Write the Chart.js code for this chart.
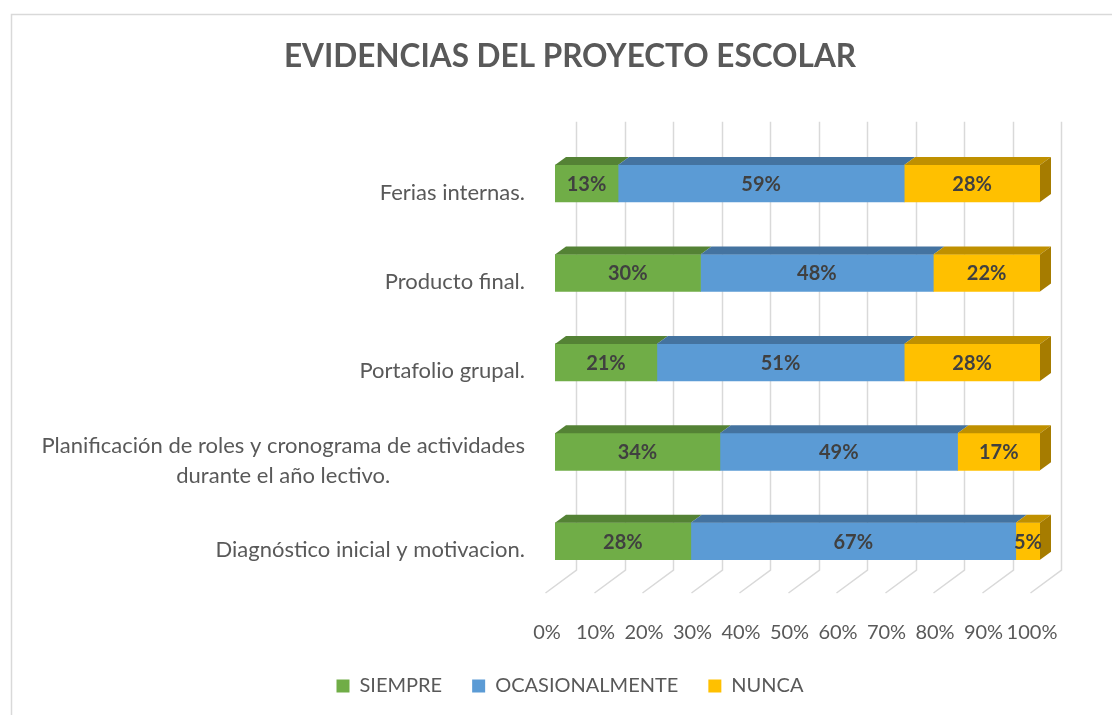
<!DOCTYPE html>
<html lang="es">
<head>
  <meta charset="UTF-8">
  <title>Evidencias del proyecto escolar</title>
  <script src="https://cdn.jsdelivr.net/npm/chart.js"></script>
  <style>
    html, body { margin: 0; padding: 0; background: #fff; }
  </style>
</head>
<body>
  <canvas id="grafico" width="1112" height="715"></canvas>

  <script>
    // datos
    const categorias = [
      ['Ferias internas.'],
      ['Producto final.'],
      ['Portafolio grupal.'],
      ['Planificación de roles y cronograma de actividades', 'durante el año lectivo.'],
      ['Diagnóstico inicial y motivacion.']
    ];
    const siempre = [13, 30, 21, 34, 28];
    const ocasionalmente = [59, 48, 51, 49, 67];
    const nunca = [28, 22, 28, 17, 5];
    const etiquetasX = ['0%', '10%', '20%', '30%', '40%', '50%', '60%', '70%', '80%', '90%', '100%'];

    const fuente = 'Lato, "Open Sans", sans-serif';
    const tapa = ['#548235', '#4473A0', '#BF9000'];   // cara superior
    const lado = '#A67C00';                           // cara lateral de la ultima serie
    const DX = 11, DY = 8;                            // profundidad de las barras

    // fondo blanco y borde del area del grafico
    const fondo = {
      id: 'fondo',
      beforeDraw(chart) {
        const c = chart.ctx;
        c.save();
        c.fillStyle = '#fff';
        c.fillRect(0, 0, chart.width, chart.height);
        c.strokeStyle = '#d9d9d9';
        c.lineWidth = 1.5;
        c.strokeRect(11.5, 14.5, chart.width + 20, chart.height + 20);
        c.restore();
      }
    };

    // pared del fondo y piso (lineas de division)
    const pared = {
      id: 'pared',
      beforeDatasetsDraw(chart) {
        const c = chart.ctx, x = chart.scales.x, a = chart.chartArea;
        const arriba = a.top - 17, abajo = a.bottom - 16;
        c.save();
        c.strokeStyle = '#d9d9d9';
        c.lineWidth = 1.5;
        for (let v = 0; v <= 100; v += 10) {
          const px = Math.round(x.getPixelForValue(v)) + 21.5;
          c.beginPath();
          c.moveTo(px, arriba);
          c.lineTo(px, abajo);
          c.lineTo(px - 31, abajo + 23);
          c.stroke();
        }
        c.restore();
      }
    };

    // caras superior y lateral, y etiquetas de datos
    const volumen = {
      id: 'volumen',
      afterDatasetsDraw(chart) {
        const c = chart.ctx;
        const n = chart.data.datasets.length;
        c.save();
        chart.data.datasets.forEach((ds, i) => {
          chart.getDatasetMeta(i).data.forEach(bar => {
            const arriba = bar.y - bar.height / 2, abajo = bar.y + bar.height / 2;
            c.fillStyle = tapa[i];
            c.beginPath();
            c.moveTo(bar.base, arriba);
            c.lineTo(bar.x, arriba);
            c.lineTo(bar.x + DX, arriba - DY);
            c.lineTo(bar.base + DX, arriba - DY);
            c.closePath();
            c.fill();
            if (i === n - 1) {
              c.fillStyle = lado;
              c.beginPath();
              c.moveTo(bar.x, arriba);
              c.lineTo(bar.x + DX, arriba - DY);
              c.lineTo(bar.x + DX, abajo - DY);
              c.lineTo(bar.x, abajo);
              c.closePath();
              c.fill();
            }
          });
        });
        c.font = 'bold 20px ' + fuente;
        c.fillStyle = '#404040';
        c.textAlign = 'center';
        c.textBaseline = 'middle';
        chart.data.datasets.forEach((ds, i) => {
          chart.getDatasetMeta(i).data.forEach((bar, j) => {
            c.fillText(ds.data[j] + '%', (bar.x + bar.base) / 2, bar.y + 1);
          });
        });
        c.restore();
      }
    };

    // etiquetas de categoria (lineas centradas entre si, bloque alineado a la derecha)
    const etiquetas = {
      id: 'etiquetas',
      afterDraw(chart) {
        const c = chart.ctx, y = chart.scales.y;
        c.save();
        c.font = '22px ' + fuente;
        c.fillStyle = '#595959';
        c.textAlign = 'center';
        c.textBaseline = 'middle';
        categorias.forEach((lineas, i) => {
          const ancho = Math.max(...lineas.map(t => c.measureText(t).width));
          const cx = 525 - ancho / 2;
          const cy = y.getPixelForValue(i) + 9 - (lineas.length - 1) * 15;
          lineas.forEach((t, k) => c.fillText(t, cx, cy + k * 30));
        });
        c.restore();
      }
    };

    new Chart(document.getElementById('grafico'), {
      type: 'bar',
      data: {
        labels: categorias,
        datasets: [
          { label: 'SIEMPRE', data: siempre, backgroundColor: '#70AD47' },
          { label: 'OCASIONALMENTE', data: ocasionalmente, backgroundColor: '#5B9BD5' },
          { label: 'NUNCA', data: nunca, backgroundColor: '#FFC000' }
        ]
      },
      options: {
        indexAxis: 'y',
        responsive: false,
        animation: false,
        barThickness: 37,
        layout: { padding: { left: 100, right: 72, top: 0, bottom: 9 } },
        plugins: {
          title: {
            display: true,
            text: 'EVIDENCIAS DEL PROYECTO ESCOLAR',
            color: '#595959',
            font: { family: fuente, size: 31.5, weight: 'bold' },
            padding: { top: 38, bottom: 63 }
          },
          legend: {
            position: 'bottom',
            labels: {
              color: '#595959',
              font: { family: fuente, size: 20 },
              boxWidth: 13,
              boxHeight: 13,
              padding: 30
            }
          },
          tooltip: { enabled: false }
        },
        scales: {
          x: {
            stacked: true,
            min: 0,
            max: 100,
            border: { display: false },
            grid: { display: false },
            ticks: {
              stepSize: 10,
              color: '#595959',
              font: { family: fuente, size: 20 },
              padding: 27,
              labelOffset: -8,
              maxRotation: 0,
              autoSkip: false,
              callback: (v, i) => etiquetasX[i]
            },
            afterFit: s => { s.height = 60; }
          },
          y: {
            stacked: true,
            border: { display: false },
            grid: { display: false },
            ticks: { display: false },
            afterFit: s => { s.width = 455; }
          }
        }
      },
      plugins: [fondo, pared, volumen, etiquetas]
    });
  </script>
</body>
</html>
